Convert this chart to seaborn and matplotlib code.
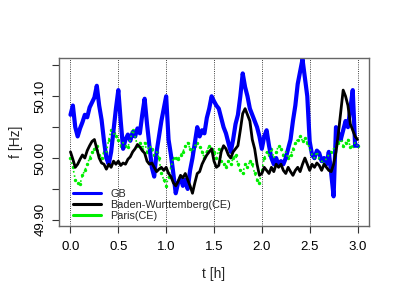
import numpy as np
import pandas as pd
import matplotlib
matplotlib.use("Agg")
import matplotlib.pyplot as plt
from matplotlib.lines import Line2D
import seaborn as sns

# time axis: 0 .. 3 h in 0.025 h steps
t_hours = [round(i * 0.025, 3) for i in range(121)]

gb = [
    50.070, 50.085, 50.050, 50.035, 50.048, 50.058, 50.070, 50.066, 50.082, 50.090,
    50.098, 50.117, 50.085, 50.062, 50.028, 50.000, 49.990, 50.010, 50.045, 50.080,
    50.110, 50.060, 50.015, 50.030, 50.038, 50.028, 50.042, 50.035, 50.048, 50.040,
    50.070, 50.096, 50.055, 50.020, 49.985, 49.970, 50.010, 50.035, 50.060, 50.080,
    50.100, 50.030, 50.005, 49.975, 49.943, 49.960, 49.968, 49.955, 49.965, 49.950,
    49.980, 50.000, 50.025, 50.050, 50.035, 50.045, 50.040, 50.065, 50.080, 50.100,
    50.092, 50.085, 50.080, 50.065, 50.050, 50.040, 50.025, 50.010, 50.030, 50.055,
    50.070, 50.100, 50.137, 50.115, 50.100, 50.080, 50.070, 50.060, 50.050, 50.035,
    50.015, 50.035, 50.045, 50.020, 50.000, 49.990, 50.000, 49.988, 49.995, 49.990,
    50.000, 50.015, 50.030, 50.060, 50.085, 50.120, 50.140, 50.160, 50.130, 50.100,
    50.027, 50.005, 50.000, 50.012, 50.008, 49.995, 50.000, 49.990, 50.010, 49.975,
    49.938, 50.050, 50.040, 50.030, 50.045, 50.060, 50.050, 50.080, 50.110, 50.020,
    50.020,
]

bw = [
    50.010, 49.998, 49.985, 49.990, 49.998, 50.005, 50.000, 50.012, 50.020, 50.027,
    50.030, 50.015, 50.000, 49.992, 49.990, 49.982, 49.990, 49.985, 49.995, 49.990,
    49.995, 49.988, 49.992, 49.990, 49.998, 50.002, 50.010, 50.015, 50.022, 50.018,
    50.012, 50.008, 49.995, 49.990, 49.992, 49.985, 49.978, 49.982, 49.985, 49.980,
    49.985, 49.975, 49.970, 49.960, 49.955, 49.962, 49.972, 49.968, 49.975, 49.965,
    49.955, 49.943, 49.960, 49.975, 49.978, 49.990, 49.998, 50.005, 50.010, 50.015,
    49.995, 49.985, 49.988, 50.010, 50.020, 50.015, 50.005, 50.000, 50.010, 50.015,
    50.020, 50.045, 50.072, 50.080, 50.070, 50.060, 50.030, 50.015, 49.990, 49.972,
    49.975, 49.985, 49.980, 49.975, 49.985, 49.978, 49.990, 49.985, 49.990, 49.980,
    49.975, 49.985, 49.978, 49.972, 49.980, 49.985, 49.978, 49.990, 50.000, 49.990,
    49.980, 49.990, 49.985, 49.992, 49.988, 49.980, 49.990, 49.985, 49.980, 49.978,
    49.990, 50.010, 50.040, 50.075, 50.110, 50.100, 50.085, 50.055, 50.045, 50.035,
    50.030,
]

paris = [
    50.000, 49.985, 49.965, 49.960, 49.958, 49.972, 49.980, 49.990, 50.000, 50.010,
    50.015, 50.020, 50.005, 50.000, 50.010, 50.010, 50.030, 50.045, 50.040, 50.035,
    50.030, 50.020, 50.025, 50.020, 50.018, 50.030, 50.045, 50.035, 50.020, 50.025,
    50.015, 50.025, 50.010, 50.020, 50.015, 50.005, 50.010, 50.000, 49.975, 49.965,
    49.955, 49.970, 49.985, 50.000, 50.000, 49.998, 50.005, 50.010, 50.020, 50.025,
    50.015, 50.010, 50.020, 50.025, 50.018, 50.010, 50.000, 50.012, 50.020, 50.015,
    50.010, 50.000, 50.015, 49.995, 49.990, 49.985, 49.995, 49.990, 50.000, 50.005,
    49.990, 49.980, 49.975, 49.990, 49.985, 49.995, 49.990, 49.975, 49.965, 49.960,
    49.980, 50.000, 50.010, 50.005, 50.015, 50.000, 50.010, 50.020, 50.015, 50.005,
    50.010, 50.000, 50.005, 50.015, 50.025, 50.030, 50.035, 50.028, 50.032, 50.025,
    50.015, 50.005, 50.000, 50.010, 50.000, 49.995, 49.990, 50.000, 50.005, 50.010,
    50.015, 50.020, 50.025, 50.030, 50.020, 50.025, 50.030, 50.018, 50.020, 50.025,
    50.020,
]

series_names = ["GB", "Baden-Wurttemberg(CE)", "Paris(CE)"]
series_colors = ["#0000FF", "#000000", "#00EE00"]
x_ticks = [0.0, 0.5, 1.0, 1.5, 2.0, 2.5, 3.0]
y_ticks = [49.90, 49.95, 50.00, 50.05, 50.10, 50.15]
y_ticklabels = ["49.90", "", "50.00", "", "50.10", ""]

df = pd.DataFrame({"t": t_hours, "GB": gb, "BW": bw, "Paris": paris})

sns.set_style("ticks")
plt.rcParams["font.family"] = ["Liberation Sans", "DejaVu Sans"]

fig = plt.figure(figsize=(4, 3), dpi=100)
ax = fig.add_axes([0.1475, 0.2467, 0.775, 0.56])

for x in x_ticks:
    ax.axvline(x, color="black", linestyle=":", linewidth=0.6, zorder=0)

# GB drawn as a thick band, Paris as scattered dots, BW as a solid line on top
sns.lineplot(data=df, x="t", y="GB", ax=ax, color=series_colors[0], linewidth=3.0)
sns.lineplot(data=df, x="t", y="Paris", ax=ax, color=series_colors[2], linewidth=1.2,
             linestyle=":")
sns.scatterplot(data=df, x="t", y="Paris", ax=ax, color=series_colors[2], s=6,
                edgecolor=None, linewidth=0)
sns.lineplot(data=df, x="t", y="BW", ax=ax, color=series_colors[1], linewidth=2.0)

ax.set_xlim(-0.12, 3.12)
ax.set_ylim(49.89, 50.162)
ax.set_xticks(x_ticks)
ax.set_xticklabels(["0.0", "0.5", "1.0", "1.5", "2.0", "2.5", "3.0"])
ax.set_yticks(y_ticks)
ax.set_yticklabels(y_ticklabels, rotation=90, va="center")
ax.tick_params(direction="out", length=5, width=0.8, colors="#333333",
               labelsize=9.5, labelcolor="black")
ax.tick_params(axis="x", pad=6)
ax.tick_params(axis="y", pad=4)
for sp in ax.spines.values():
    sp.set_visible(True)
    sp.set_color("#666666")
    sp.set_linewidth(1.0)

ax.set_xlabel("t [h]", fontsize=10, labelpad=10)
ax.set_ylabel("f [Hz]", fontsize=10, labelpad=8)

handles = [Line2D([0], [0], color=c, linewidth=2.2) for c in series_colors]
ax.legend(handles, series_names, loc="lower left", bbox_to_anchor=(0.025, -0.01),
          frameon=False, fontsize=7.8, handlelength=2.6, labelspacing=0.12,
          handletextpad=0.8, borderaxespad=0.2)

fig.savefig("out.png", dpi=100)
